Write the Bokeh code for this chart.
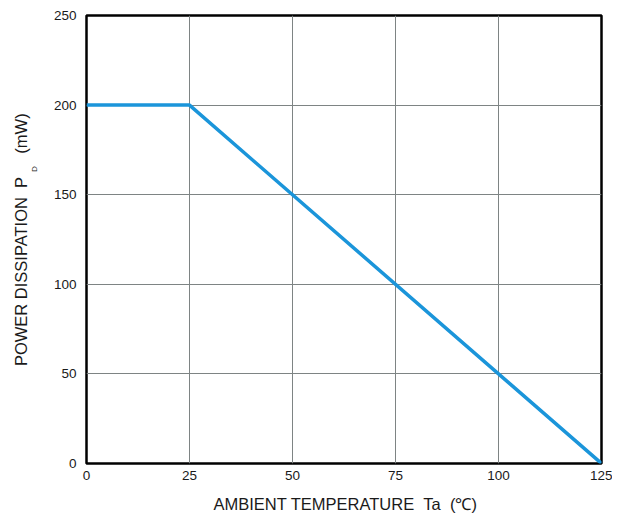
from bokeh.plotting import figure
from bokeh.models import FixedTicker, Range1d, LinearAxis
from bokeh.embed import file_html
from bokeh.resources import INLINE

# Data
temperature = [0, 25, 125]
power = [200, 200, 0]
x_ticks = [0, 25, 50, 75, 100, 125]
y_ticks = [0, 50, 100, 150, 200, 250]
NB2 = "\u00a0\u00a0"
x_title = "AMBIENT TEMPERATURE" + NB2 + "Ta" + NB2 + "(\u2103)"
y_title_main = "POWER DISSIPATION" + NB2 + "P"
y_title_sub = "D"
y_title_unit = "(mW)"

FONT = "Liberation Sans"
TXT = "#1a1a1a"
FL, FT, FW, FH = 86, 15, 515, 448
W, H = 612, 514

p = figure(width=W, height=H, output_backend="svg", toolbar_location=None,
           x_range=Range1d(0, 125), y_range=Range1d(0, 250),
           frame_width=FW, frame_height=FH,
           min_border_left=FL, min_border_right=W - FL - FW, min_border_top=FT,
           min_border_bottom=H - FT - FH)

p.outline_line_color = "black"
p.outline_line_width = 2.5
p.background_fill_color = "white"
p.border_fill_color = "white"


def style_axis(ax, size):
    ax.axis_line_color = None
    ax.major_tick_line_color = None
    ax.minor_tick_line_color = None
    ax.major_tick_out = 0
    ax.major_tick_in = 0
    ax.minor_tick_out = 0
    ax.minor_tick_in = 0
    ax.major_label_text_font = FONT
    ax.major_label_text_font_size = size
    ax.major_label_text_color = TXT


p.xaxis[0].ticker = FixedTicker(ticks=x_ticks)
p.yaxis[0].ticker = FixedTicker(ticks=y_ticks)
style_axis(p.xaxis[0], "13.5px")
style_axis(p.yaxis[0], "13.5px")
p.xaxis[0].major_label_standoff = 7
p.yaxis[0].major_label_standoff = 10

p.grid.grid_line_color = "#7e8484"
p.grid.grid_line_width = 1

p.line(temperature, power, line_color="#1b95da", line_width=3.5)


# positions (pixels of the reference) -> data values along each axis
def y_at(py):
    return round((FT + FH - py) * 250 / FH, 2)


def x_at(px):
    return round((px - FL) * 125 / FW, 2)


# y axis title, drawn as labels of extra left axes so they sit outside the frame
ym, yu, yd = y_at(271), y_at(133), y_at(168.5)
ax_sub = LinearAxis(ticker=FixedTicker(ticks=[yd]), major_label_overrides={yd: y_title_sub},
                    major_label_orientation="vertical")
style_axis(ax_sub, "8px")
ax_sub.major_label_standoff = 11
p.add_layout(ax_sub, "left")

ax_main = LinearAxis(ticker=FixedTicker(ticks=[ym, yu]),
                     major_label_overrides={ym: y_title_main, yu: y_title_unit},
                     major_label_orientation="vertical")
style_axis(ax_main, "16.5px")
ax_main.major_label_standoff = -3
p.add_layout(ax_main, "left")

# x axis title
xm = x_at(345)
ax_x = LinearAxis(ticker=FixedTicker(ticks=[xm]), major_label_overrides={xm: x_title})
style_axis(ax_x, "16.5px")
ax_x.major_label_standoff = 12
p.add_layout(ax_x, "below")

open("out.html", "w").write(file_html(p, INLINE))
